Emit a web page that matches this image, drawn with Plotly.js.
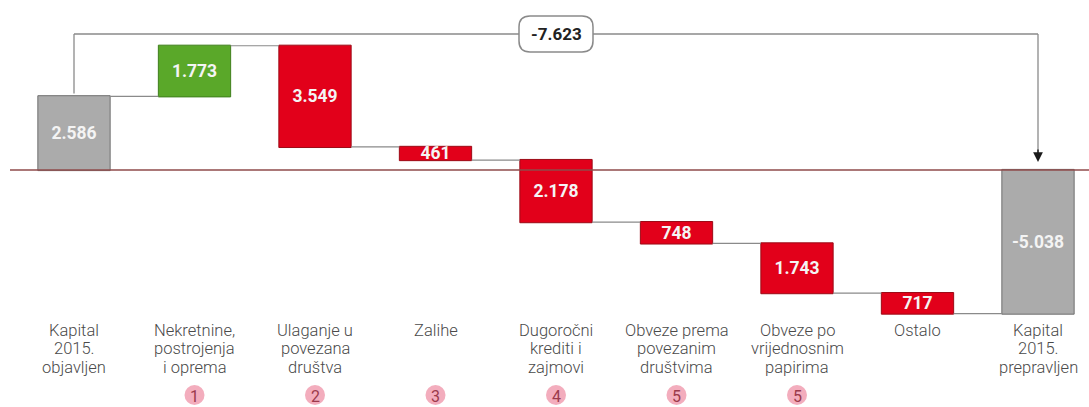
<!DOCTYPE html>
<html>
<head>
<meta charset="utf-8">
<script src="https://cdn.plot.ly/plotly-3.0.1.min.js"></script>
<style>html,body{margin:0;padding:0;background:#fff;}#chart{width:1089px;height:407px;}</style>
</head>
<body>
<div id="chart"></div>
<script>
// ---- data ----
const categories = [
  "Kapital<br>2015.<br>objavljen",
  "Nekretnine,<br>postrojenja<br>i oprema",
  "Ulaganje u<br>povezana<br>društva",
  "Zalihe",
  "Dugoročni<br>krediti i<br>zajmovi",
  "Obveze prema<br>povezanim<br>društvima",
  "Obveze po<br>vrijednosnim<br>papirima",
  "Ostalo",
  "Kapital<br>2015.<br>prepravljen"
];
const startValue = 2586;
const changes = [1773, -3549, -461, -2178, -748, -1743, -717];
const endValue = -5038;
const noteNumbers = ["", "1", "2", "3", "4", "5", "5", "", ""];

// ---- helpers ----
function fmt(v) {
  const s = Math.abs(Math.round(v)).toString().replace(/\B(?=(\d{3})+(?!\d))/g, ".");
  return (v < 0 ? "-" : "") + s;
}
const yValues = [startValue].concat(changes).concat([endValue]);
const measures = ["absolute"].concat(changes.map(() => "relative")).concat(["absolute"]);
const barText = [fmt(startValue)].concat(changes.map(v => fmt(Math.abs(v)))).concat([fmt(endValue)]);
const totalChange = changes.reduce((a, b) => a + b, 0);
const xIdx = categories.map((_, i) => i);

const W = 1089, H = 407;
const pxX = p => p / W;
const pxY = p => 1 - p / H;

const trace = {
  type: "waterfall",
  x: xIdx,
  y: yValues,
  measure: measures,
  text: barText,
  textposition: "inside",
  insidetextanchor: "middle",
  constraintext: "none",
  textfont: {family: "Roboto, Arial, sans-serif", size: 17.5, color: "#f4f4f4", weight: "bold"},
  width: 0.6,
  increasing: {marker: {color: "#5aa829", line: {color: "#3f7f1c", width: 1}}},
  decreasing: {marker: {color: "#e2001a", line: {color: "#9c0a16", width: 1}}},
  totals: {marker: {color: "#ababab", line: {color: "#6f6f6f", width: 1}}},
  connector: {line: {color: "#8a8a8a", width: 1.2}},
  hoverinfo: "none",
  cliponaxis: false
};

// y scale: zero at 170px, ~28.5 px per 1000
const pxPerUnit = 28.5 / 1000;
const zeroPx = 170;
const yTop = zeroPx / pxPerUnit;
const yBot = -(H - zeroPx) / pxPerUnit;
const xLeft = -74 / 120.5;
const xRight = (W - 74) / 120.5;
const lineY = (zeroPx - 34) / pxPerUnit;     // top bracket level
const arrowTipY = (zeroPx - 162) / pxPerUnit;

const shapes = [
  // zero line
  {type: "line", xref: "paper", yref: "y", x0: pxX(10), x1: 1, y0: 0, y1: 0,
   line: {color: "#8f4b4b", width: 1.7}, layer: "above"},
  // bracket left vertical
  {type: "line", xref: "x", yref: "y", x0: 0, x1: 0, y0: startValue + 100, y1: lineY,
   line: {color: "#8a8a8a", width: 1.3}},
  // bracket horizontal
  {type: "line", xref: "x", yref: "y", x0: 0, x1: 8, y0: lineY, y1: lineY,
   line: {color: "#8a8a8a", width: 1.3}},
  // bracket right vertical
  {type: "line", xref: "x", yref: "y", x0: 8, x1: 8, y0: lineY, y1: arrowTipY + 300,
   line: {color: "#8a8a8a", width: 1.3}}
];

// rounded label box
(function () {
  const cx = 556, cy = 34, w = 74, h = 36, r = 11;
  const x0 = cx - w / 2, x1 = cx + w / 2, y0 = cy - h / 2, y1 = cy + h / 2;
  const P = (x, y) => pxX(x) + "," + pxY(y);
  const path = "M" + P(x0 + r, y0) + " L" + P(x1 - r, y0) + " Q" + P(x1, y0) + " " + P(x1, y0 + r) +
    " L" + P(x1, y1 - r) + " Q" + P(x1, y1) + " " + P(x1 - r, y1) +
    " L" + P(x0 + r, y1) + " Q" + P(x0, y1) + " " + P(x0, y1 - r) +
    " L" + P(x0, y0 + r) + " Q" + P(x0, y0) + " " + P(x0 + r, y0) + " Z";
  shapes.push({type: "path", xref: "paper", yref: "paper", path: path,
    fillcolor: "#ffffff", line: {color: "#8a8a8a", width: 1.5}, layer: "above"});
})();

// note circles
noteNumbers.forEach((n, i) => {
  if (!n) return;
  shapes.push({type: "circle", xref: "x", yref: "paper", xsizemode: "pixel", ysizemode: "pixel",
    xanchor: i, yanchor: pxY(395), x0: -10, x1: 10, y0: -10, y1: 10,
    fillcolor: "#f3adbd", line: {width: 0}});
});

const annotations = [];
// arrow head
annotations.push({x: 8, y: arrowTipY, xref: "x", yref: "y", text: "", showarrow: true,
  ax: 0, ay: -14, arrowhead: 2, arrowsize: 1.4, arrowwidth: 1.4, arrowcolor: "#1a1a1a"});
// total change label
annotations.push({x: pxX(556), y: pxY(34), xref: "paper", yref: "paper", text: fmt(totalChange),
  showarrow: false, font: {family: "Roboto, Arial, sans-serif", size: 17, color: "#222", weight: "bold"},
  xanchor: "center", yanchor: "middle"});
// category labels, one annotation per line for tight line spacing
const lineCenters = [330, 348.5, 367];
categories.forEach((c, i) => {
  c.split("<br>").forEach((ln, k) => {
    annotations.push({x: i, y: pxY(lineCenters[k]), xref: "x", yref: "paper", text: ln, showarrow: false,
      xanchor: "center", yanchor: "middle", align: "center",
      font: {family: "Roboto, Arial, sans-serif", size: 16.5, color: "#4a4a4a", weight: 300}});
  });
});
// note numbers
noteNumbers.forEach((n, i) => {
  if (!n) return;
  annotations.push({x: i, y: pxY(396), xref: "x", yref: "paper", text: n, showarrow: false,
    xanchor: "center", yanchor: "middle",
    font: {family: "Roboto, Arial, sans-serif", size: 16, color: "#9b3a4c"}});
});

const layout = {
  width: W, height: H,
  margin: {l: 0, r: 0, t: 0, b: 0},
  paper_bgcolor: "#ffffff", plot_bgcolor: "#ffffff",
  showlegend: false,
  xaxis: {range: [xLeft, xRight], visible: false, fixedrange: true},
  yaxis: {range: [yBot, yTop], visible: false, zeroline: false, fixedrange: true},
  shapes: shapes,
  annotations: annotations,
  font: {family: "Roboto, Arial, sans-serif"}
};

Plotly.newPlot("chart", [trace], layout, {displayModeBar: false, staticPlot: true});
</script>
</body>
</html>
